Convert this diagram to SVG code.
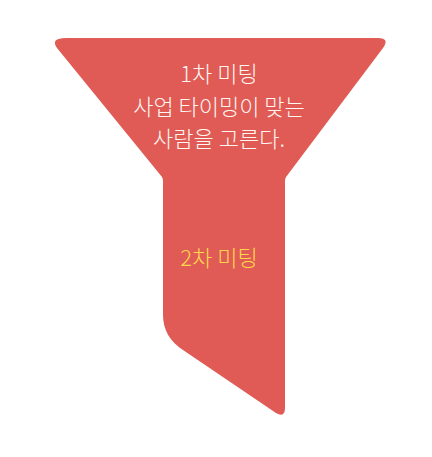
<svg xmlns="http://www.w3.org/2000/svg" width="432" height="457" viewBox="0 0 432 457">
<style>
.shape{fill:#E05B55}
.t{font-family:"Noto Sans CJK KR","Noto Sans",sans-serif;font-size:22px;font-weight:300;text-anchor:middle}
.w{fill:#FFF6F2}
.y{fill:#FFD84A}
</style>
<rect width="432" height="457" fill="#FFFFFF"/>
<g id="funnel">
<path class="shape" d="M 66 38 L 378 38 Q 390 38 383 48 L 286 177 Q 285 179 285 181 L 285 408 Q 285 418 276 413 L 183 350 Q 163 337 163 315 L 163 181 Q 163 179 162 177 L 57 48 Q 50 38 66 38 Z"/>
</g>
<g id="stage1">
<text class="t w" x="219" y="82">1차 미팅</text>
<text class="t w" x="219" y="115">사업 타이밍이 맞는</text>
<text class="t w" x="219" y="147">사람을 고른다.</text>
</g>
<g id="stage2">
<text class="t y" x="219" y="266">2차 미팅</text>
</g>
</svg>
